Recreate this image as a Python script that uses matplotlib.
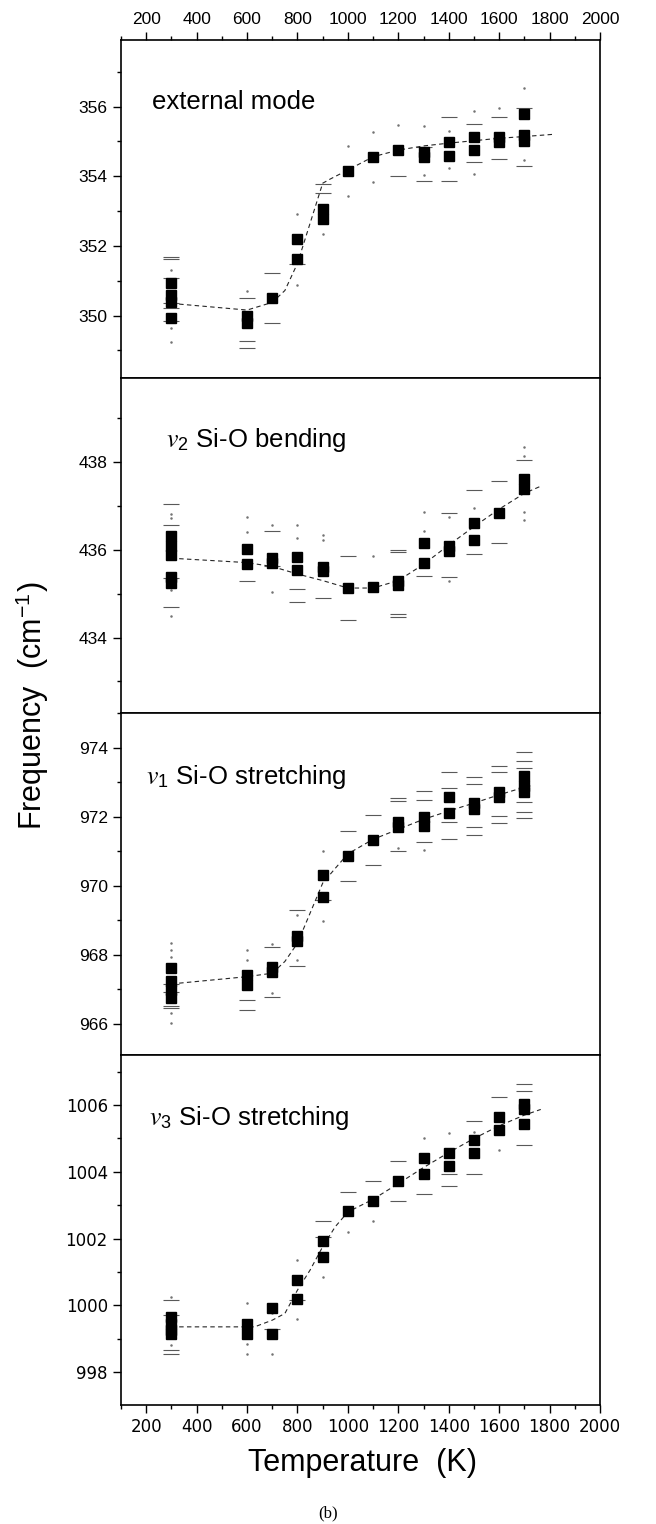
import matplotlib
matplotlib.use('Agg')
import matplotlib.pyplot as plt
from matplotlib.ticker import MultipleLocator

plt.rcParams['font.family'] = ['Liberation Sans', 'DejaVu Sans']
plt.rcParams['mathtext.fontset'] = 'stix'

# Data --------------------------------------------------------------------------------------------------------------
# external mode
ext_T   = [300, 300, 300, 300, 600, 600, 700, 800, 800, 900, 900, 1000, 1100, 1200, 1300, 1300,
           1400, 1400, 1500, 1500, 1600, 1600, 1700, 1700, 1700]
ext_f   = [350.95, 350.6, 350.4, 349.92, 349.98, 349.8, 350.52, 352.2, 351.62, 353.06, 352.78, 354.16,
           354.56, 354.76, 354.71, 354.56, 354.97, 354.58, 355.12, 354.76, 355.14, 354.97, 355.78, 355.19, 355.02]
ext_capT = [300, 300, 300, 300, 300, 300, 600, 600, 600, 700, 700, 800, 900, 900, 1200, 1300, 1300,
            1400, 1400, 1500, 1500, 1600, 1600, 1700, 1700]
ext_cap  = [351.69, 351.63, 351.09, 350.37, 350.21, 349.86, 350.5, 349.28, 349.06, 351.23, 349.8, 351.47,
            353.79, 353.52, 354.02, 354.85, 353.85, 355.69, 353.85, 355.5, 354.4, 355.69, 354.49, 355.95, 354.3]
ext_dotT = [300, 300, 300, 600, 800, 800, 900, 1000, 1000, 1100, 1100, 1200, 1300, 1300, 1400, 1400,
            1500, 1500, 1600, 1700, 1700]
ext_dot  = [351.31, 349.64, 349.25, 350.72, 352.91, 350.88, 352.33, 354.88, 353.44, 355.28, 353.83, 355.47,
            355.44, 354.04, 355.31, 354.23, 355.86, 354.07, 355.95, 356.53, 354.47]
ext_fitT = [300, 600, 700, 750, 800, 900, 930, 1000, 1100, 1200, 1300, 1400, 1500, 1600, 1700, 1810]
ext_fit  = [350.35, 350.16, 350.38, 350.72, 351.5, 353.8, 353.92, 354.18, 354.56, 354.75, 354.87, 354.95,
            355.02, 355.09, 355.14, 355.2]

# v2 Si-O bending
bend_T   = [300, 300, 300, 300, 300, 600, 600, 700, 700, 800, 800, 900, 900, 1000, 1100, 1200, 1200,
            1300, 1300, 1400, 1400, 1500, 1500, 1600, 1700, 1700]
bend_f   = [436.32, 436.08, 435.89, 435.39, 435.24, 436.02, 435.67, 435.81, 435.71, 435.83, 435.54, 435.62,
            435.51, 435.13, 435.15, 435.3, 435.2, 436.15, 435.71, 436.08, 435.98, 436.62, 436.23, 436.85,
            437.61, 437.38]
bend_capT = [300, 300, 300, 300, 600, 700, 700, 800, 800, 900, 1000, 1000, 1200, 1200, 1200, 1200, 1300,
             1400, 1400, 1500, 1500, 1600, 1600, 1700]
bend_cap  = [437.05, 436.56, 435.37, 434.69, 435.3, 436.44, 435.63, 435.1, 434.82, 434.9, 435.85, 434.4,
             436.0, 435.95, 434.54, 434.48, 435.41, 436.85, 435.39, 437.37, 435.91, 437.57, 436.15, 438.05]
bend_dotT = [300, 300, 300, 300, 600, 600, 700, 700, 800, 800, 900, 900, 1100, 1300, 1300, 1400, 1400,
             1500, 1700, 1700, 1700, 1700]
bend_dot  = [436.82, 436.72, 435.09, 434.5, 436.76, 436.4, 436.56, 435.03, 436.56, 436.27, 436.34, 436.23,
             435.87, 436.87, 436.44, 436.74, 435.28, 436.96, 438.34, 438.14, 436.87, 436.68]
bend_fitT = [300, 600, 700, 800, 900, 1000, 1100, 1200, 1300, 1400, 1500, 1600, 1700, 1760]
bend_fit  = [435.81, 435.71, 435.62, 435.45, 435.3, 435.13, 435.13, 435.3, 435.67, 436.11, 436.53, 436.93,
             437.29, 437.44]

# v1 Si-O stretching
str1_T   = [300, 300, 300, 300, 600, 600, 700, 700, 800, 800, 900, 900, 1000, 1100, 1200, 1200, 1300, 1300,
            1400, 1400, 1500, 1500, 1600, 1600, 1700, 1700, 1700]
str1_f   = [967.6, 967.22, 966.98, 966.73, 967.41, 967.12, 967.63, 967.49, 968.54, 968.38, 970.31, 969.66,
            970.87, 971.32, 971.83, 971.71, 972.0, 971.74, 972.58, 972.1, 972.39, 972.21, 972.72, 972.58,
            973.16, 972.89, 972.72]
str1_capT = [300, 300, 300, 300, 600, 600, 700, 700, 800, 800, 900, 1000, 1000, 1100, 1100, 1200, 1200, 1200,
             1300, 1300, 1300, 1400, 1400, 1400, 1400, 1500, 1500, 1500, 1500, 1600, 1600, 1600, 1600,
             1700, 1700, 1700, 1700, 1700, 1700]
str1_cap  = [967.15, 966.93, 966.51, 966.44, 966.67, 966.4, 968.23, 966.76, 969.29, 967.67, 969.57, 971.59,
             970.13, 972.05, 970.6, 972.53, 972.45, 970.99, 972.74, 972.48, 971.26, 973.3, 972.82, 971.84,
             971.35, 973.14, 972.95, 971.69, 971.46, 973.47, 973.28, 972.02, 971.81, 973.88, 973.62, 973.4,
             972.42, 972.14, 971.97]
str1_dotT = [300, 300, 300, 300, 300, 600, 600, 700, 700, 800, 800, 900, 900, 1200, 1300]
str1_dot  = [968.33, 968.14, 967.94, 966.3, 966.01, 968.12, 967.85, 968.31, 966.88, 969.15, 967.85, 970.99,
             968.96, 971.08, 971.03]
str1_fitT = [300, 600, 700, 750, 800, 850, 900, 950, 1000, 1100, 1200, 1300, 1400, 1500, 1600, 1700, 1725]
str1_fit  = [967.15, 967.36, 967.46, 967.8, 968.33, 969.2, 970.07, 970.5, 970.92, 971.34, 971.63, 971.92,
             972.16, 972.39, 972.63, 972.85, 972.89]

# v3 Si-O stretching
str3_T   = [300, 300, 300, 300, 600, 600, 700, 700, 800, 800, 900, 900, 1000, 1100, 1200, 1300, 1300,
            1400, 1400, 1500, 1500, 1600, 1600, 1700, 1700, 1700]
str3_f   = [999.66, 999.46, 999.26, 999.14, 999.46, 999.16, 999.93, 999.16, 1000.76, 1000.2, 1001.94, 1001.46,
            1002.82, 1003.13, 1003.72, 1004.43, 1003.95, 1004.57, 1004.18, 1004.95, 1004.57, 1005.65, 1005.25,
            1006.02, 1005.87, 1005.43]
str3_capT = [300, 300, 300, 300, 700, 800, 900, 900, 1000, 1100, 1200, 1200, 1300, 1400, 1400, 1500, 1500,
             1600, 1700, 1700, 1700]
str3_cap  = [1000.16, 999.71, 998.66, 998.54, 999.31, 1000.16, 1002.53, 1002.06, 1003.41, 1003.73, 1004.32,
             1003.13, 1003.35, 1003.95, 1003.57, 1005.53, 1003.95, 1006.25, 1006.62, 1006.43, 1004.82]
str3_dotT = [300, 300, 600, 600, 600, 700, 700, 800, 800, 900, 1000, 1100, 1300, 1400, 1500, 1600]
str3_dot  = [1000.26, 998.81, 1000.06, 998.86, 998.56, 999.76, 998.56, 1001.36, 999.61, 1000.86, 1002.21,
             1002.53, 1005.0, 1005.17, 1005.2, 1004.67]
str3_fitT = [300, 630, 700, 750, 800, 850, 900, 950, 1000, 1100, 1200, 1300, 1400, 1500, 1600, 1700, 1765]
str3_fit  = [999.36, 999.36, 999.56, 999.76, 1000.46, 1001.06, 1001.76, 1002.36, 1002.8, 1003.18, 1003.65,
             1004.13, 1004.58, 1005.0, 1005.38, 1005.7, 1005.87]

labels = ['external mode', r'$v_{\mathregular{2}}$ Si-O bending', r'$v_{\mathregular{1}}$ Si-O stretching',
          r'$v_{\mathregular{3}}$ Si-O stretching']
ylims  = [(348.21, 357.91), (432.28, 439.92), (965.09, 975.0), (997.02, 1007.5)]

panels = [
    (ext_T, ext_f, ext_capT, ext_cap, ext_dotT, ext_dot, ext_fitT, ext_fit),
    (bend_T, bend_f, bend_capT, bend_cap, bend_dotT, bend_dot, bend_fitT, bend_fit),
    (str1_T, str1_f, str1_capT, str1_cap, str1_dotT, str1_dot, str1_fitT, str1_fit),
    (str3_T, str3_f, str3_capT, str3_cap, str3_dotT, str3_dot, str3_fitT, str3_fit),
]

# Layout in pixels (figure is 656 x 1524) ---------------------------------------------------------------------------
W, H = 656, 1524
left, right = 121, 600
edges = [40, 378, 713, 1055, 1405]          # top / bottom of each panel
label_pos = [(152, 102), (166, 440), (146, 777), (149, 1118)]

fig = plt.figure(figsize=(W / 100, H / 100), dpi=100)

for i, (T, f, capT, cap, dotT, dot, fitT, fit) in enumerate(panels):
    top, bot = edges[i], edges[i + 1]
    ax = fig.add_axes([left / W, 1 - bot / H, (right - left) / W, (bot - top) / H])

    ax.plot(fitT, fit, color='0.15', lw=0.8, ls=(0, (4, 3)), zorder=2)
    ax.plot(dotT, dot, ls='none', marker='.', ms=1.6, color='0.45', zorder=1)
    ax.plot(capT, cap, ls='none', marker='_', ms=11, mew=0.8, color='0.35', zorder=1)
    ax.plot(T, f, ls='none', marker='s', ms=6.5, color='black', mec='black', zorder=3)

    ax.set_xlim(100, 2000)
    ax.set_ylim(*ylims[i])
    ax.xaxis.set_major_locator(MultipleLocator(200))
    ax.xaxis.set_minor_locator(MultipleLocator(100))
    ax.yaxis.set_major_locator(MultipleLocator(2))
    ax.yaxis.set_minor_locator(MultipleLocator(1))
    for s in ax.spines.values():
        s.set_linewidth(1.2)

    ax.tick_params(axis='y', which='both', direction='out', left=True, right=False, width=1.0)
    ax.tick_params(axis='y', which='major', length=6, labelsize=12.5)
    ax.tick_params(axis='y', which='minor', length=3)
    ax.tick_params(axis='x', which='both', direction='out', width=1.0, bottom=False, top=False,
                   labelbottom=False, labeltop=False)
    ax.tick_params(axis='x', which='major', length=6, labelsize=12.5)
    ax.tick_params(axis='x', which='minor', length=3)

    if i == 0:
        ax.tick_params(axis='x', which='both', top=True, labeltop=True)
    if i == 3:
        ax.tick_params(axis='x', which='both', bottom=True, labelbottom=True)
        for lab in ax.get_xticklabels() + ax.get_yticklabels():
            lab.set_fontfamily('DejaVu Sans')
            lab.set_fontsize(12)

    lx, ly = label_pos[i]
    fig.text(lx / W, 1 - ly / H, labels[i], fontsize=18.5, ha='left', va='center')

fig.text(32 / W, 1 - 706 / H, r'Frequency  (cm$^{\mathregular{-1}}$)', fontsize=22, rotation=90,
         ha='center', va='center')
fig.text(363 / W, 1 - 1463 / H, 'Temperature  (K)', fontsize=22, ha='center', va='center')
fig.text(328 / W, 1 - 1513 / H, '(b)', fontsize=12, family='Liberation Serif', ha='center', va='center')

fig.savefig('out.png', dpi=100)
